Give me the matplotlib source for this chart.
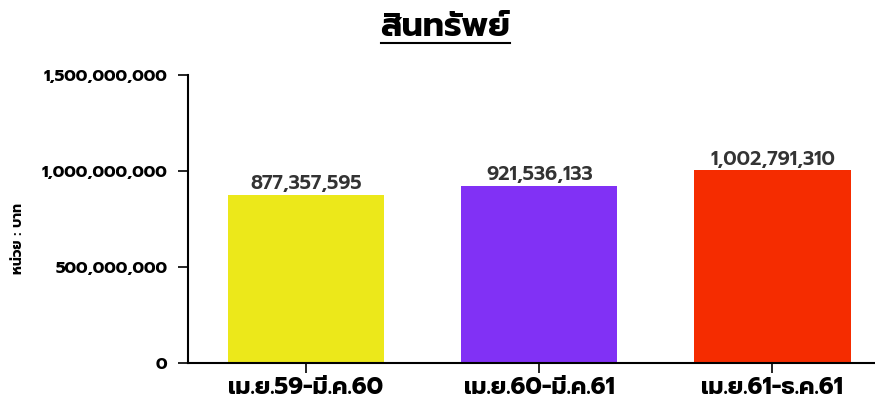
import matplotlib.pyplot as plt
from matplotlib.ticker import FuncFormatter

# data
periods = ['เม.ย.59-มี.ค.60', 'เม.ย.60-มี.ค.61', 'เม.ย.61-ธ.ค.61']
assets = [877357595, 921536133, 1002791310]
bar_colors = ['#ECE81A', '#8131F5', '#F52C00']

plt.rcParams['font.family'] = ['Prompt', 'DejaVu Sans']

fig = plt.figure(figsize=(8.75, 4.01), dpi=100)
ax = fig.add_axes([188 / 875, 1 - 363 / 401, (875 - 188) / 875, 288 / 401])

x = range(len(periods))
bars = ax.bar(x, assets, width=0.67, color=bar_colors)
for b, v in zip(bars, assets):
    ax.text(b.get_x() + b.get_width() / 2, v + 10e6, f'{v:,}',
            ha='center', va='bottom', fontsize=14, fontweight='semibold', color='#333333')

ax.set_ylim(0, 1.5e9)
ax.set_xlim(-0.506, 2.44)
ax.set_yticks([0, 5e8, 1e9, 1.5e9])
ax.yaxis.set_major_formatter(FuncFormatter(lambda v, p: f'{int(v):,}'))
ax.set_xticks(list(x))
ax.set_xticklabels(periods, fontsize=17, fontweight='bold')
for lab in ax.get_yticklabels():
    lab.set_fontweight('bold')
    lab.set_fontsize(12)
ax.tick_params(axis='both', length=7, width=1.2, color='black')
ax.tick_params(axis='y', pad=8)
ax.tick_params(axis='x', pad=2)

for s in ['top', 'right']:
    ax.spines[s].set_visible(False)
ax.spines['left'].set_linewidth(1.5)
ax.spines['bottom'].set_linewidth(1.5)

fig.text(18 / 875, 1 - 238 / 401, 'หน่วย : บาท', rotation=90, ha='center', va='center',
         fontsize=10, fontweight='bold')
fig.text(445 / 875, 1 - 27 / 401, 'สินทรัพย์', ha='center', va='center',
         fontsize=24, fontweight='bold')
fig.add_artist(plt.Line2D([381 / 875, 510 / 875], [1 - 43 / 401, 1 - 43 / 401],
                          color='black', lw=1.5))

fig.savefig('out.png', dpi=100)
